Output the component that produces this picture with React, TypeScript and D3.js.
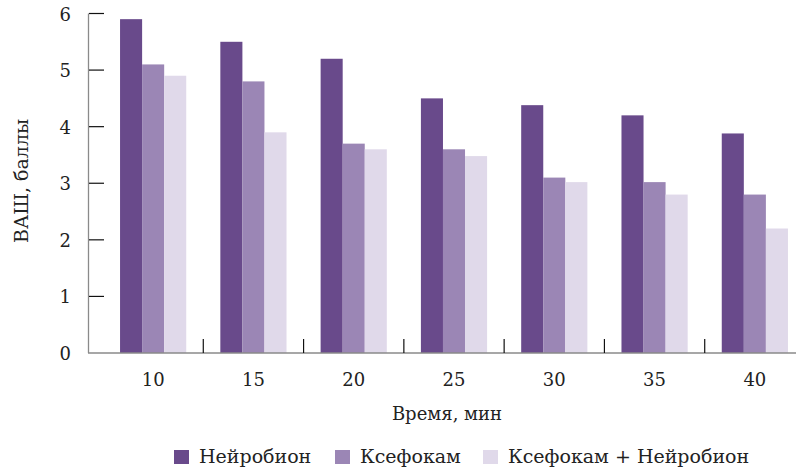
import React from "react";
import * as d3 from "d3";

const categories = ["10", "15", "20", "25", "30", "35", "40"];
const seriesNames = ["Нейробион", "Ксефокам", "Ксефокам + Нейробион"];
const neurobion = [5.9, 5.5, 5.2, 4.5, 4.38, 4.2, 3.88];
const xefocam = [5.1, 4.8, 3.7, 3.6, 3.1, 3.02, 2.8];
const combo = [4.9, 3.9, 3.6, 3.48, 3.02, 2.8, 2.2];
const yTicks = [0, 1, 2, 3, 4, 5, 6];
const colors = ["#694a8b", "#9b86b5", "#e0d9ea"];

export default function App() {
  const W = 796, H = 472;
  const x = d3.scaleBand().domain(categories).range([103, 805]).paddingInner(0.34).paddingOuter(0.17);
  const xs = d3.scaleBand().domain(seriesNames).range([0, x.bandwidth()]);
  const y = d3.scaleLinear().domain([0, 6]).range([353, 13.5]);
  const series = [neurobion, xefocam, combo];
  const step = x.step();
  const font = "'DejaVu Serif', 'Noto Serif', serif";
  const legendX = [174, 335, 483];
  const ts = { fontFamily: font, fontSize: 18, fill: "#222" } as React.CSSProperties;
  const ls = { ...ts, fontSize: 19 } as React.CSSProperties;
  return (
    <svg width={W} height={H} style={{ position: "absolute", left: 0, top: 0 }}>
      {series.map((vals, si) =>
        vals.map((v, i) => (
          <rect key={si + "-" + i} x={(x(categories[i]) as number) + (xs(seriesNames[si]) as number)} y={y(v)}
            width={xs.bandwidth()} height={y(0) - y(v)} fill={colors[si]} />
        ))
      )}
      <line x1={88.5} x2={88.5} y1={13.5} y2={353} stroke="#8a8a8a" strokeWidth={1.3} />
      <line x1={88} x2={796} y1={353} y2={353} stroke="#8a8a8a" strokeWidth={1.3} />
      {yTicks.map(t => (
        <g key={t}>
          {t > 0 && <line x1={89} x2={104} y1={y(t)} y2={y(t)} stroke="#111" strokeWidth={1.2} />}
          <text x={71} y={y(t) + 7} textAnchor="end" style={ts}>{t}</text>
        </g>
      ))}
      {categories.slice(1).map((c, i) => {
        const boundary = 103 + step * (i + 1);
        return <line key={c} x1={boundary} x2={boundary} y1={339} y2={353} stroke="#111" strokeWidth={1.2} />;
      })}
      {categories.map(c => (
        <text key={c} x={(x(c) as number) + x.bandwidth() / 2} y={386} textAnchor="middle" style={ts}>{c}</text>
      ))}
      <text x={447} y={420} textAnchor="middle" style={ts}>Время, мин</text>
      <text transform={`translate(28,181) rotate(-90)`} textAnchor="middle" style={ls}>ВАШ, баллы</text>
      {seriesNames.map((n, i) => (
        <g key={n}>
          <rect x={legendX[i]} y={450} width={15} height={14} fill={colors[i]} />
          <text x={legendX[i] + 25} y={463} style={ls}>{n}</text>
        </g>
      ))}
    </svg>
  );
}
